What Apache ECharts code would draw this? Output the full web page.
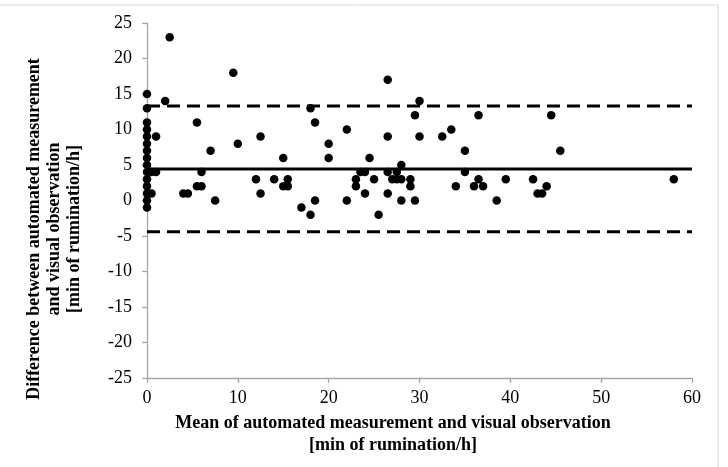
<!DOCTYPE html>
<html>
<head>
<meta charset="utf-8">
<script src="https://cdn.jsdelivr.net/npm/echarts@6/dist/echarts.min.js"></script>
<style>html,body{margin:0;padding:0;background:#fff;}#c{width:728px;height:467px;}</style>
</head>
<body>
<div id="c"></div>
<script>
// Mean of automated measurement and visual observation (x)
const meanX = [0,0,0,0,0,0,0,0,0,0,0,0,0,0,0,
  0.5,1,1,0.5,2,2.5,4,4.5,5.5,5.5,6,6,7,7.5,9.5,10,12,12.5,12.5,14,15,15,15.5,15.5,
  17,18,18,18.5,18.5,20,20,22,22,23,23,23.5,24,24,24.5,25,25.5,
  26.5,26.5,26.5,26.5,27,27.5,27.5,28,28,28,29,29,29.5,29.5,30,30,
  32.5,33.5,34,35,35,36,36.5,36.5,37,38.5,39.5,42.5,43,43.5,44,44.5,45.5,58];
// Difference between automated measurement and visual observation (y)
const diffY = [15,13,11,10,9,8,7,6,5,4,3,2,1,0,-1,
  4,4,9,1,14,23,1,1,11,2,2,4,7,0,18,8,3,9,1,3,6,2,2,3,
  -1,13,-2,11,0,8,6,10,0,3,2,4,4,1,6,3,-2,
  17,9,4,1,3,3,4,5,3,0,3,2,12,0,14,9,
  9,10,2,7,4,2,12,3,2,0,3,3,1,1,2,12,7,3];
const meanDiff = 4.45;
const upperLimit = 13.3;
const lowerLimit = -4.4;
const lineXRange = [0, 60];
const xTicks = [0, 10, 20, 30, 40, 50, 60];
const yTicks = [-25, -20, -15, -10, -5, 0, 5, 10, 15, 20, 25];

const yTitleLines = ['Difference between automated measurement', 'and visual observation', '[min of rumination/h]'];
const xTitleLines = ['Mean of automated measurement and visual observation', '[min of rumination/h]'];

const chart = echarts.init(document.getElementById('c'), null, {renderer: 'canvas'});
const serif = '"Liberation Serif", "Times New Roman", serif';
const axisColor = '#a6a6a6';
const points = meanX.map((x, i) => [x, diffY[i]]);

chart.setOption({
  animation: false,
  backgroundColor: '#fff',
  grid: {left: 147, right: 36, top: 23, bottom: 89, containLabel: false},
  xAxis: {
    type: 'value', min: xTicks[0], max: xTicks[xTicks.length - 1], interval: 10,
    axisLine: {show: true, onZero: false, lineStyle: {color: axisColor, width: 1.3}},
    axisTick: {show: true, length: 5, lineStyle: {color: axisColor, width: 1.3}},
    axisLabel: {color: '#000', fontFamily: serif, fontSize: 18, margin: 11},
    splitLine: {show: false}
  },
  yAxis: {
    type: 'value', min: yTicks[0], max: yTicks[yTicks.length - 1], interval: 5,
    axisLine: {show: true, lineStyle: {color: axisColor, width: 1.3}},
    axisTick: {show: true, length: 5, lineStyle: {color: axisColor, width: 1.3}},
    axisLabel: {color: '#000', fontFamily: serif, fontSize: 18, margin: 15},
    splitLine: {show: false}
  },
  series: [
    {type: 'scatter', data: points, symbol: 'circle', symbolSize: 8.5,
     itemStyle: {color: '#000', opacity: 1}, z: 3},
    {type: 'line', data: lineXRange.map(x => [x, meanDiff]), symbol: 'none',
     lineStyle: {color: '#000', width: 3, type: 'solid'}, z: 2},
    {type: 'line', data: lineXRange.map(x => [x, upperLimit]), symbol: 'none',
     lineStyle: {color: '#000', width: 3, type: [13, 7]}, z: 2},
    {type: 'line', data: lineXRange.map(x => [x, lowerLimit]), symbol: 'none',
     lineStyle: {color: '#000', width: 3, type: [13, 7]}, z: 2}
  ],
  graphic: [
    {type: 'rect', shape: {x: -2, y: 5, width: 720, height: 470}, style: {fill: 'none', stroke: '#d9d9d9', lineWidth: 1}, silent: true},
    {type: 'text', x: 34, y: 229, rotation: Math.PI / 2,
     style: {text: yTitleLines[0], font: 'bold 18px ' + serif, fill: '#000', textAlign: 'center', textVerticalAlign: 'middle'}},
    {type: 'text', x: 54, y: 229, rotation: Math.PI / 2,
     style: {text: yTitleLines[1], font: 'bold 18px ' + serif, fill: '#000', textAlign: 'center', textVerticalAlign: 'middle'}},
    {type: 'text', x: 74, y: 229, rotation: Math.PI / 2,
     style: {text: yTitleLines[2], font: 'bold 18px ' + serif, fill: '#000', textAlign: 'center', textVerticalAlign: 'middle'}},
    {type: 'text', x: 393, y: 423,
     style: {text: xTitleLines[0], font: 'bold 18px ' + serif, fill: '#000', textAlign: 'center', textVerticalAlign: 'middle'}},
    {type: 'text', x: 393, y: 445,
     style: {text: xTitleLines[1], font: 'bold 18px ' + serif, fill: '#000', textAlign: 'center', textVerticalAlign: 'middle'}}
  ]
});
</script>
</body>
</html>
